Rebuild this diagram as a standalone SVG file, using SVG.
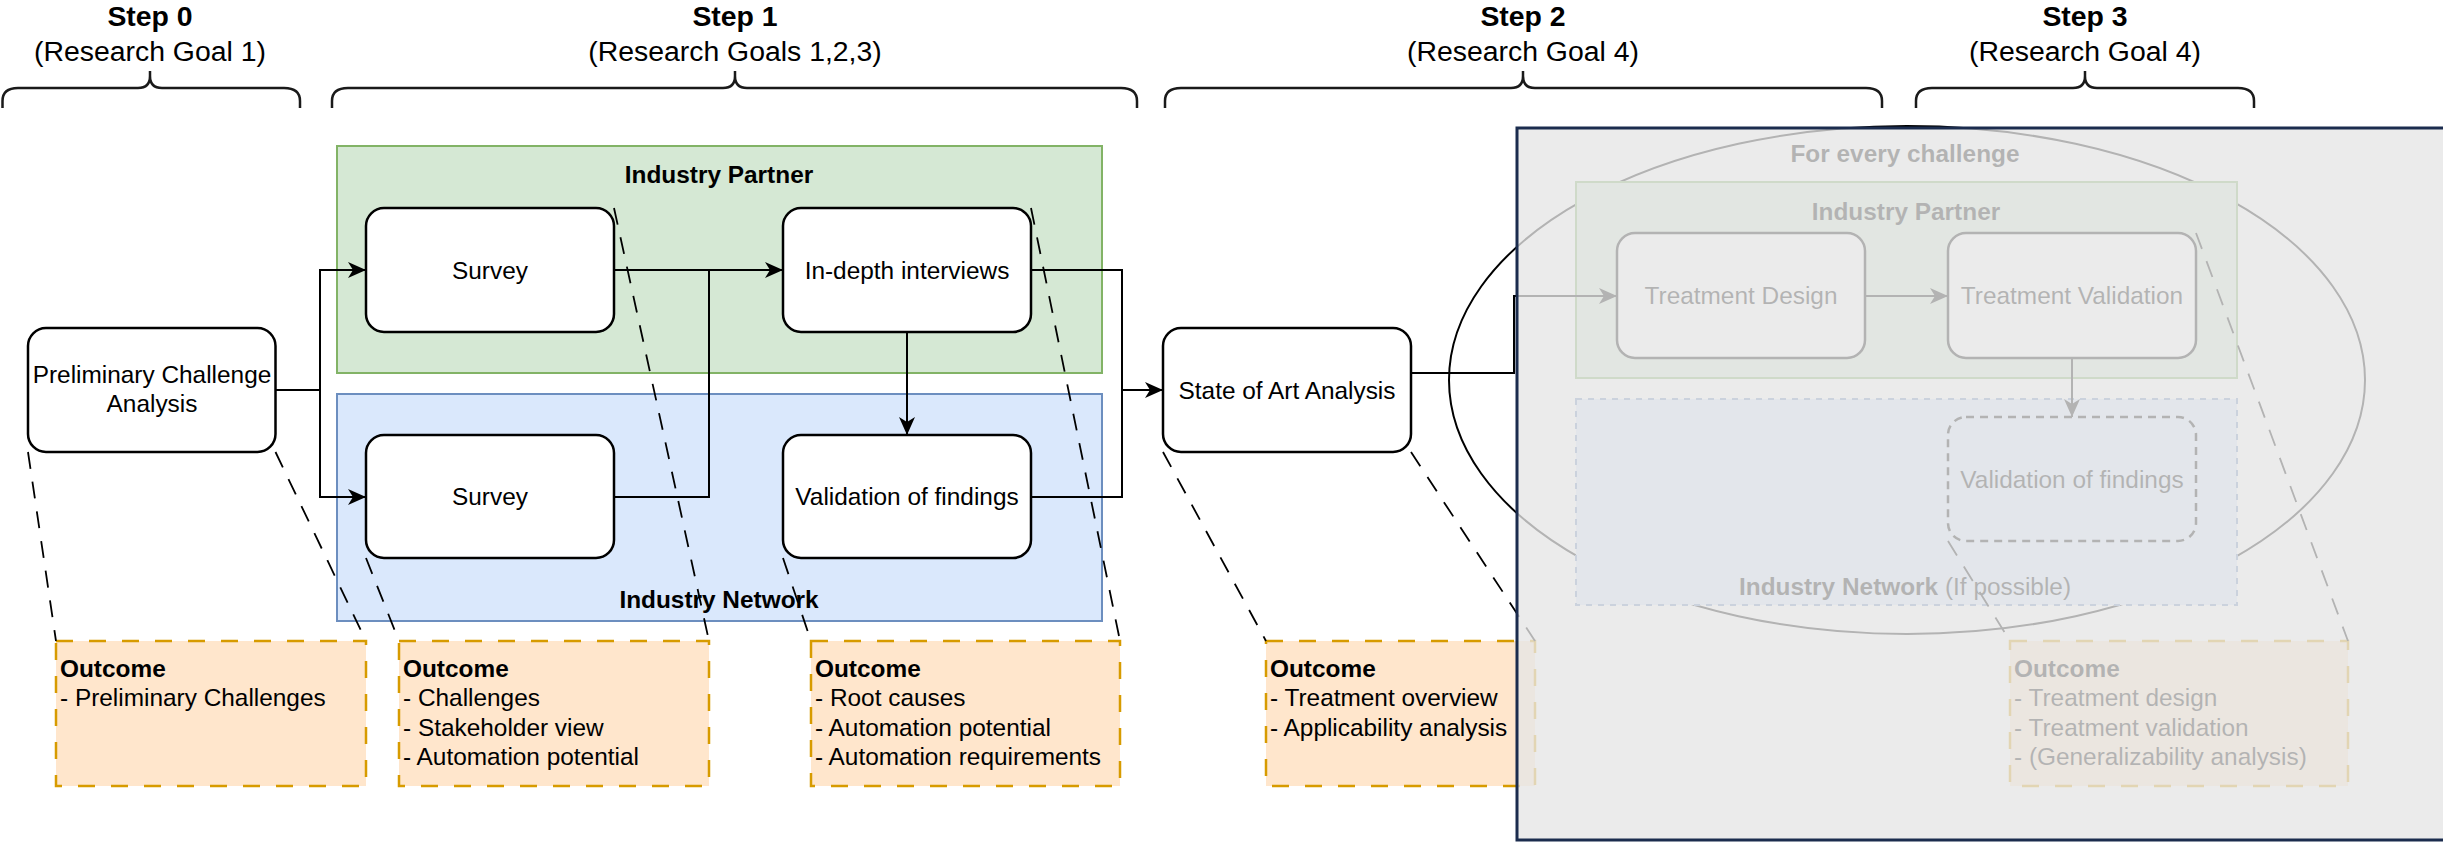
<svg xmlns="http://www.w3.org/2000/svg" width="2443" height="843" viewBox="0 0 2443 843">
  <defs>
    <style>
      text { font-family: "Liberation Sans", Arial, Helvetica, sans-serif; fill: #000; }
      .step { font-size: 28.4px; font-weight: bold; text-anchor: middle; }
      .goal { font-size: 28.4px; text-anchor: middle; }
      .lbl { font-size: 24.4px; text-anchor: middle; }
      .hd { font-size: 24.4px; font-weight: bold; text-anchor: middle; }
      .out { font-size: 24.4px; }
      .out .b { font-weight: bold; }
      .brace { fill: none; stroke: #1a1a1a; stroke-width: 2.5; }
      .node { fill: #fff; stroke: #000; stroke-width: 2.5; }
      .partner { fill: #d5e8d4; stroke: #82b366; stroke-width: 2; }
      .network { fill: #dae8fc; stroke: #6c8ebf; stroke-width: 2; }
      .outcome { fill: #ffe6cc; stroke: #d79b00; stroke-width: 2.5; stroke-dasharray: 17 16; }
      .edge { fill: none; stroke: #000; stroke-width: 2; }
      .call { fill: none; stroke: #000; stroke-width: 1.8; stroke-dasharray: 17 13; }
    </style>
    <marker id="arrow" markerUnits="userSpaceOnUse" markerWidth="20" markerHeight="18" viewBox="-19 -9 20 18" refX="0" refY="0" orient="auto">
      <path d="M0,0 L-18,-8 L-13,0 L-18,8 Z" fill="#000"/>
    </marker>
  </defs>

  <!-- step headers with curly braces -->
  <g id="step0">
    <text class="step" x="150" y="26">Step 0</text>
    <text class="goal" x="150" y="61">(Research Goal 1)</text>
    <path class="brace" d="M2.5,108 L2.5,101 Q2.5,88 18,88 L138,88 Q150,88 150,76 L150,71 M150,76 Q150,88 162,88 L284,88 Q300,88 300,101 L300,108"/>
  </g>
  <g id="step1">
    <text class="step" x="735" y="26">Step 1</text>
    <text class="goal" x="735" y="61">(Research Goals 1,2,3)</text>
    <path class="brace" d="M332,108 L332,101 Q332,88 348,88 L723,88 Q735,88 735,76 L735,71 M735,76 Q735,88 747,88 L1121,88 Q1137,88 1137,101 L1137,108"/>
  </g>
  <g id="step2">
    <text class="step" x="1523" y="26">Step 2</text>
    <text class="goal" x="1523" y="61">(Research Goal 4)</text>
    <path class="brace" d="M1165,108 L1165,101 Q1165,88 1181,88 L1511,88 Q1523,88 1523,76 L1523,71 M1523,76 Q1523,88 1535,88 L1866,88 Q1882,88 1882,101 L1882,108"/>
  </g>
  <g id="step3">
    <text class="step" x="2085" y="26">Step 3</text>
    <text class="goal" x="2085" y="61">(Research Goal 4)</text>
    <path class="brace" d="M1916,108 L1916,101 Q1916,88 1932,88 L2073,88 Q2085,88 2085,76 L2085,71 M2085,76 Q2085,88 2097,88 L2238,88 Q2254,88 2254,101 L2254,108"/>
  </g>

  <!-- step 1 containers -->
  <g id="industry-partner-1">
    <rect class="partner" x="337" y="146" width="765" height="227"/>
    <text class="hd" x="719" y="183">Industry Partner</text>
  </g>
  <g id="industry-network-1">
    <rect class="network" x="337" y="394" width="765" height="227"/>
    <text class="hd" x="719" y="608">Industry Network</text>
  </g>

  <!-- step 3 loop -->
  <g id="every-challenge">
    <ellipse cx="1907" cy="380" rx="458" ry="254" fill="none" stroke="#000" stroke-width="2"/>
    <text class="hd" x="1905" y="162">For every challenge</text>
  </g>
  <g id="industry-partner-3">
    <rect class="partner" x="1576" y="182" width="661" height="196"/>
    <text class="hd" x="1906" y="220">Industry Partner</text>
  </g>
  <g id="industry-network-3">
    <rect x="1576" y="399" width="661" height="206" fill="#dae8fc" stroke="#6c8ebf" stroke-width="2" stroke-dasharray="6 6"/>
    <text class="hd" x="1905" y="595">Industry Network<tspan font-weight="normal"> (If possible)</tspan></text>
  </g>

  <!-- outcome notes -->
  <g id="outcome-0">
    <rect class="outcome" x="56" y="641" width="310" height="145"/>
    <text class="out" x="60" y="677"><tspan class="b">Outcome</tspan><tspan x="60" dy="29.4">- Preliminary Challenges</tspan></text>
  </g>
  <g id="outcome-1a">
    <rect class="outcome" x="399" y="641" width="310" height="145"/>
    <text class="out" x="403" y="677"><tspan class="b">Outcome</tspan><tspan x="403" dy="29.4">- Challenges</tspan><tspan x="403" dy="29.4">- Stakeholder view</tspan><tspan x="403" dy="29.4">- Automation potential</tspan></text>
  </g>
  <g id="outcome-1b">
    <rect class="outcome" x="811" y="641" width="309" height="145"/>
    <text class="out" x="815" y="677"><tspan class="b">Outcome</tspan><tspan x="815" dy="29.4">- Root causes</tspan><tspan x="815" dy="29.4">- Automation potential</tspan><tspan x="815" dy="29.4">- Automation requirements</tspan></text>
  </g>
  <g id="outcome-2">
    <rect class="outcome" x="1266" y="641" width="269" height="145"/>
    <text class="out" x="1270" y="677"><tspan class="b">Outcome</tspan><tspan x="1270" dy="29.4">- Treatment overview</tspan><tspan x="1270" dy="29.4">- Applicability analysis</tspan></text>
  </g>
  <g id="outcome-3">
    <rect class="outcome" x="2010" y="641" width="338" height="145"/>
    <text class="out" x="2014" y="677"><tspan class="b">Outcome</tspan><tspan x="2014" dy="29.4">- Treatment design</tspan><tspan x="2014" dy="29.4">- Treatment validation</tspan><tspan x="2014" dy="29.4">- (Generalizability analysis)</tspan></text>
  </g>

  <!-- dashed lines tying each step to its outcome note -->
  <g id="callouts">
    <path class="call" d="M28,452 L56,641 M275.5,452 L366,641"/>
    <path class="call" d="M366,558 L399,641 M614,208 L709,641"/>
    <path class="call" d="M783,558 L811,641 M1031,208 L1120,641"/>
    <path class="call" d="M1163,452 L1266,641 M1411,452 L1535,641"/>
    <path class="call" d="M1948,541 L2010,641 M2196,233 L2348,641"/>
  </g>

  <!-- connectors -->
  <g id="connectors">
    <path class="edge" d="M275.5,390 H320 V270 H366" marker-end="url(#arrow)"/>
    <path class="edge" d="M275.5,390 H320 V497 H366" marker-end="url(#arrow)"/>
    <path class="edge" d="M614,270 H783" marker-end="url(#arrow)"/>
    <path class="edge" d="M614,497 H709 V270"/>
    <path class="edge" d="M907,332 V435" marker-end="url(#arrow)"/>
    <path class="edge" d="M1031,270 H1122 V390 H1163" marker-end="url(#arrow)"/>
    <path class="edge" d="M1031,497 H1122 V390"/>
    <path class="edge" d="M1411,373 H1514 V296 H1617" marker-end="url(#arrow)"/>
    <path class="edge" d="M1865,296 H1948" marker-end="url(#arrow)"/>
    <path class="edge" d="M2072,358 V417" marker-end="url(#arrow)"/>
  </g>

  <!-- process nodes -->
  <g id="preliminary-analysis">
    <rect class="node" x="28" y="328" width="247.5" height="124" rx="18"/>
    <text class="lbl" x="152" y="382.5">Preliminary Challenge<tspan x="152" dy="29.4">Analysis</tspan></text>
  </g>
  <g id="survey-partner">
    <rect class="node" x="366" y="208" width="248" height="124" rx="18"/>
    <text class="lbl" x="490" y="278.5">Survey</text>
  </g>
  <g id="survey-network">
    <rect class="node" x="366" y="435" width="248" height="123" rx="18"/>
    <text class="lbl" x="490" y="505">Survey</text>
  </g>
  <g id="interviews">
    <rect class="node" x="783" y="208" width="248" height="124" rx="18"/>
    <text class="lbl" x="907" y="278.5">In-depth interviews</text>
  </g>
  <g id="validation-1">
    <rect class="node" x="783" y="435" width="248" height="123" rx="18"/>
    <text class="lbl" x="907" y="505">Validation of findings</text>
  </g>
  <g id="state-of-art">
    <rect class="node" x="1163" y="328" width="248" height="124" rx="18"/>
    <text class="lbl" x="1287" y="398.5">State of Art Analysis</text>
  </g>
  <g id="treatment-design">
    <rect class="node" x="1617" y="233" width="248" height="125" rx="18"/>
    <text class="lbl" x="1741" y="304">Treatment Design</text>
  </g>
  <g id="treatment-validation">
    <rect class="node" x="1948" y="233" width="248" height="125" rx="18"/>
    <text class="lbl" x="2072" y="304">Treatment Validation</text>
  </g>
  <g id="validation-3">
    <rect x="1948" y="417" width="248" height="124" rx="18" fill="none" stroke="#000" stroke-width="2.5" stroke-dasharray="8 6"/>
    <text class="lbl" x="2072" y="487.5">Validation of findings</text>
  </g>

  <!-- translucent panel over the not-yet-started step -->
  <g id="future-work-shade">
    <rect x="1517" y="128" width="940" height="712" fill="#e5e5e5" fill-opacity="0.78" stroke="#1b2c4e" stroke-width="3"/>
  </g>
</svg>
